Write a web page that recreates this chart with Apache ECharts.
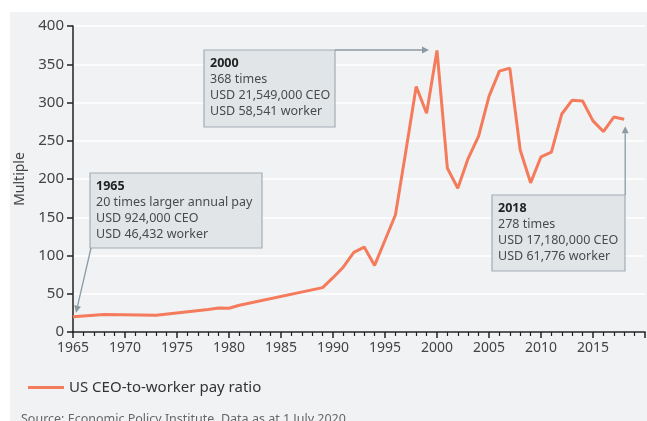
<!DOCTYPE html>
<html lang="en">
<head>
<meta charset="UTF-8">
<title>US CEO-to-worker pay ratio</title>
<script src="https://cdn.jsdelivr.net/npm/echarts@6/dist/echarts.min.js"></script>
<style>
  html, body { margin: 0; padding: 0; background: #fff; }
  #chart { width: 647px; height: 421px; }
</style>
</head>
<body>
<div id="chart"></div>
<script>
// years that show as corners of the line, and the ratio read at each
var years = [1965, 1968, 1973, 1978, 1979, 1980, 1981, 1989, 1990, 1991, 1992, 1993, 1994, 1995, 1996, 1997,
  1998, 1999, 2000, 2001, 2002, 2003, 2004, 2005, 2006, 2007, 2008, 2009, 2010, 2011, 2012, 2013, 2014,
  2015, 2016, 2017, 2018];
var ratio = [20, 23, 22, 29.5, 31.5, 31, 35, 58, 71, 85, 104, 111, 87, 120, 153, 236,
  321, 286, 368, 214, 188, 227, 256, 308, 341, 345, 238, 195, 229, 235, 285, 303, 302,
  276, 262, 281, 278];
var seriesName = 'US CEO-to-worker pay ratio';

// callout boxes
var notes = [
  { year: 1965, lines: ['1965', '20 times larger annual pay', 'USD 924,000 CEO', 'USD 46,432 worker'] },
  { year: 2000, lines: ['2000', '368 times', 'USD 21,549,000 CEO', 'USD 58,541 worker'] },
  { year: 2018, lines: ['2018', '278 times', 'USD 17,180,000 CEO', 'USD 61,776 worker'] }
];

var FONT = '"Noto Sans", sans-serif';
var lineData = years.map(function (y, i) { return [y, ratio[i]]; });

var chart = echarts.init(document.getElementById('chart'));

chart.setOption({
  animation: false,
  textStyle: { fontFamily: FONT },
  grid: { left: 73, right: 2, top: 26, bottom: 89 },
  legend: {
    left: 23, top: 375,
    itemWidth: 36, itemHeight: 3, itemGap: 7,
    icon: 'rect',
    textStyle: { fontSize: 15, color: '#333', fontFamily: FONT },
    data: [seriesName]
  },
  xAxis: {
    type: 'value', min: 1965, max: 2020, interval: 5,
    axisLine: { lineStyle: { color: '#222', width: 1.5 } },
    axisTick: { length: 6, lineStyle: { color: '#222', width: 1.5 } },
    minorTick: { show: true, splitNumber: 5, length: 4, lineStyle: { color: '#222', width: 1.2 } },
    splitLine: { show: false },
    axisLabel: { fontSize: 14, color: '#444', margin: 9, showMaxLabel: false,
      formatter: function (v) { return String(v); } }
  },
  yAxis: {
    type: 'value', min: 0, max: 400, interval: 50,
    name: 'Multiple', nameLocation: 'middle', nameGap: 43, nameRotate: 90,
    nameTextStyle: { fontSize: 14, color: '#444' },
    axisLine: { show: true, lineStyle: { color: '#222', width: 1.5 } },
    axisTick: { show: true, length: 6, lineStyle: { color: '#222', width: 1.5 } },
    splitLine: { lineStyle: { color: '#ffffff', width: 1.5 } },
    axisLabel: { fontSize: 15, color: '#444', margin: 9 }
  },
  series: [{
    name: seriesName,
    type: 'line',
    data: lineData,
    symbol: 'none',
    lineStyle: { color: '#f47b5c', width: 3 },
    itemStyle: { color: '#f47b5c' },
    z: 3
  }]
});

function arrow(x1, y1, x2, y2) {
  var c = '#8c9aa4';
  var ang = Math.atan2(y2 - y1, x2 - x1);
  var L = 7, W = 3.5;
  var bx = x2 - L * Math.cos(ang), by = y2 - L * Math.sin(ang);
  var px = -Math.sin(ang) * W, py = Math.cos(ang) * W;
  return [
    { type: 'line', z: 20, shape: { x1: x1, y1: y1, x2: bx, y2: by }, style: { stroke: c, lineWidth: 1.3 } },
    { type: 'polygon', z: 20, shape: { points: [[x2, y2], [bx + px, by + py], [bx - px, by - py]] }, style: { fill: c } }
  ];
}

function box(x, y, w, h, lines) {
  var els = [{ type: 'rect', z: 15, shape: { x: x, y: y, width: w, height: h },
    style: { fill: '#e1e5e8', stroke: '#a2acb4', lineWidth: 1.2 } }];
  lines.forEach(function (t, i) {
    els.push({ type: 'text', z: 16, x: x + 6, y: y + 13 + i * 16,
      style: { text: t, font: (i === 0 ? 'bold ' : '') + '12.5px ' + FONT,
        fill: i === 0 ? '#222' : '#4a4a4a', verticalAlign: 'middle' } });
  });
  return els;
}

var p0 = chart.convertToPixel({ gridIndex: 0 }, [notes[0].year, ratio[years.indexOf(notes[0].year)]]);
var p1 = chart.convertToPixel({ gridIndex: 0 }, [notes[1].year, ratio[years.indexOf(notes[1].year)]]);
var p2 = chart.convertToPixel({ gridIndex: 0 }, [notes[2].year, ratio[years.indexOf(notes[2].year)]]);

var g = [];
g.push({ type: 'rect', z: -10, silent: true, shape: { x: 10, y: 12, width: 640, height: 420 }, style: { fill: '#f1f2f4' } });
g = g.concat(box(90, 173, 172, 75, notes[0].lines));
g = g.concat(arrow(91, 248, p0[0] + 3, p0[1] - 4));
g = g.concat(box(204, 50, 131, 77, notes[1].lines));
g = g.concat(arrow(335, 50, p1[0] - 8, 50));
g = g.concat(box(492, 195, 133, 76, notes[2].lines));
g = g.concat(arrow(p2[0] + 1, 195, p2[0] + 1, p2[1] + 7));
g.push({ type: 'text', z: 16, x: 21, y: 419,
  style: { text: 'Source: Economic Policy Institute. Data as at 1 July 2020.', font: '12.5px ' + FONT, fill: '#666', verticalAlign: 'middle' } });

chart.setOption({ graphic: g });
</script>
</body>
</html>
